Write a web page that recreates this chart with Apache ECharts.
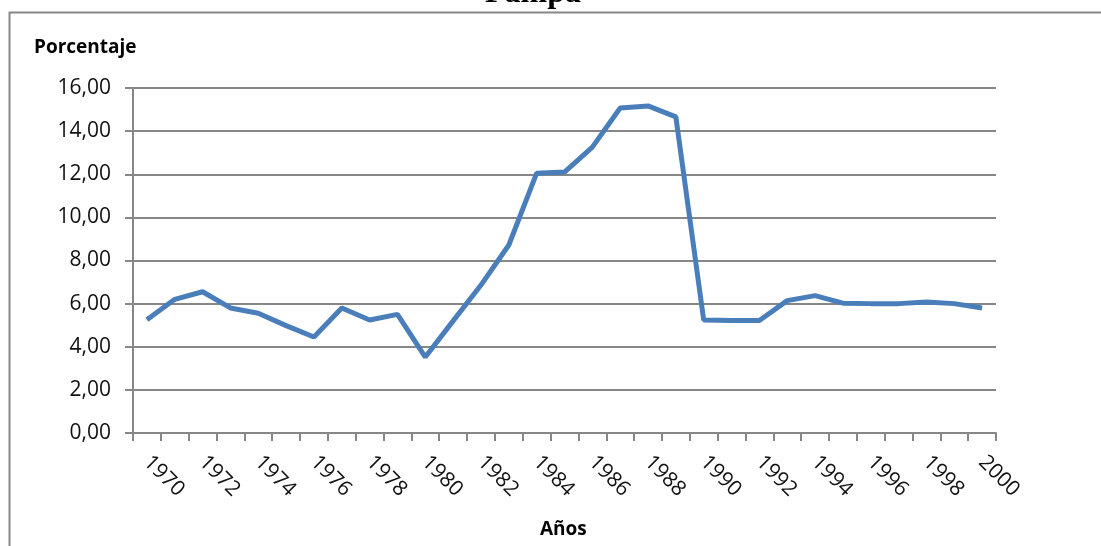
<!DOCTYPE html>
<html>
<head>
<meta charset="utf-8">
<script src="https://cdn.jsdelivr.net/npm/echarts@6/dist/echarts.min.js"></script>
<style>
  html, body { margin: 0; padding: 0; background: #fff; }
  #chart { width: 1101px; height: 546px; }
</style>
</head>
<body>
<div id="chart"></div>
<script>
// years on the category axis
const years = []
for (let y = 1970; y <= 2000; y++) years.push(String(y))

// porcentaje por año
const porcentaje = [
  5.25, 6.2, 6.55, 5.8, 5.55, 4.98, 4.45, 5.8, 5.24, 5.5,
  3.52, 5.2, 6.86, 8.72, 12.05, 12.1, 13.26, 15.07, 15.17, 14.66,
  5.24, 5.22, 5.22, 6.14, 6.37, 6.02, 6.0, 6.0, 6.07, 6.0,
  5.8
]

const yTicks = { min: 0, max: 16, interval: 2 }

const chart = echarts.init(document.getElementById("chart"))

const gray = "#878787"
const labelFont = "'Open Sans', 'Noto Sans', sans-serif"

const option = {
  backgroundColor: "#fff",
  animation: false,
  graphic: [
    {
      type: "text",
      x: 533,
      y: 10,
      style: {
        text: "Pampa",
        font: "bold 32px 'Liberation Serif', 'DejaVu Serif', serif",
        fill: "#000",
        align: "center",
        verticalAlign: "bottom",
      },
    },
    {
      type: "rect",
      shape: { x: 9.5, y: 12.5, width: 1400, height: 800 },
      style: { fill: "none", stroke: gray, lineWidth: 2 },
      z: -1,
    },
    {
      type: "text",
      left: 34,
      top: 38,
      style: {
        text: "Porcentaje",
        font: "bold 19px " + labelFont,
        fill: "#000",
      },
    },
    {
      type: "text",
      left: 540,
      top: 520,
      style: {
        text: "Años",
        font: "bold 19px " + labelFont,
        fill: "#000",
      },
    },
  ],
  grid: {
    left: 133,
    right: 105,
    top: 88,
    bottom: 113,
  },
  xAxis: {
    type: "category",
    data: years,
    boundaryGap: true,
    axisLine: { lineStyle: { color: gray, width: 2 } },
    axisTick: { show: true, interval: 0, length: 8, lineStyle: { color: gray, width: 2 } },
    axisLabel: {
      interval: 1,
      rotate: -45,
      margin: 26,
      color: "#111",
      fontSize: 21,
      fontFamily: labelFont,
    },
    splitLine: { show: false },
  },
  yAxis: {
    type: "value",
    min: yTicks.min,
    max: yTicks.max,
    interval: yTicks.interval,
    axisLine: { show: true, lineStyle: { color: gray, width: 2 } },
    axisTick: { show: true, length: 8, lineStyle: { color: gray, width: 2 } },
    axisLabel: {
      margin: 22,
      color: "#111",
      fontSize: 21,
      fontFamily: labelFont,
      formatter: (v) => v.toFixed(2).replace(".", ","),
    },
    splitLine: { show: true, lineStyle: { color: gray, width: 2 } },
  },
  series: [
    {
      type: "line",
      data: porcentaje,
      symbol: "none",
      lineStyle: { color: "#4a7ebb", width: 5 },
    },
  ],
}

chart.setOption(option)
</script>
</body>
</html>
